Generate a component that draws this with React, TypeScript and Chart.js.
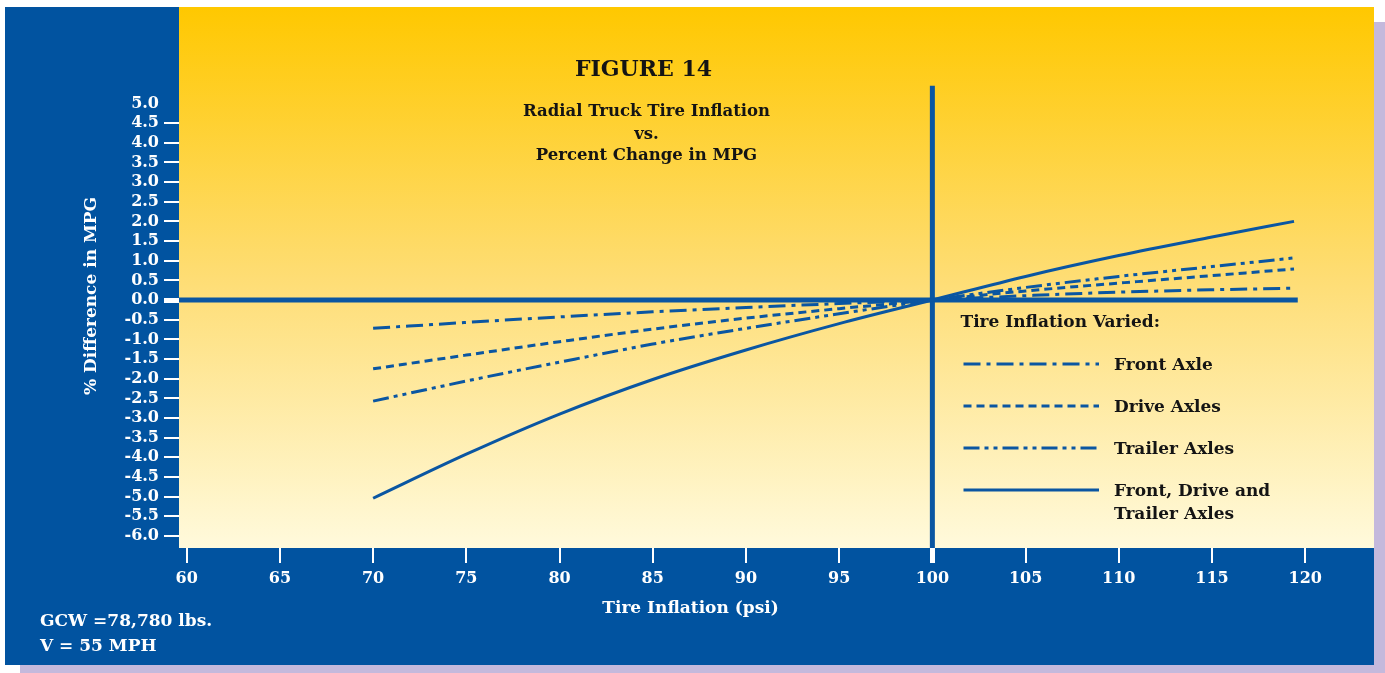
import { useEffect, useRef } from "react";
import { Chart, registerables } from "chart.js";

Chart.register(...registerables);

// ---- data ----
const inflationPsi = [70, 75, 80, 85, 90, 95, 100, 105, 110, 115, 119.4];
const frontAxle = [-0.72, -0.57, -0.43, -0.3, -0.19, -0.09, 0, 0.11, 0.2, 0.26, 0.3];
const driveAxles = [-1.75, -1.4, -1.06, -0.74, -0.46, -0.22, 0, 0.23, 0.43, 0.62, 0.79];
const trailerAxles = [-2.57, -2.06, -1.58, -1.12, -0.72, -0.35, 0, 0.32, 0.6, 0.85, 1.07];
const allAxles = [-5.04, -3.92, -2.9, -2.02, -1.27, -0.6, 0, 0.6, 1.13, 1.6, 2.0];
const seriesLabels = ["Front Axle", "Drive Axles", "Trailer Axles", "Front, Drive and\nTrailer Axles"];
const xTicks = [60, 65, 70, 75, 80, 85, 90, 95, 100, 105, 110, 115, 120];
const yTicks = [-6, -5.5, -5, -4.5, -4, -3.5, -3, -2.5, -2, -1.5, -1, -0.5, 0, 0.5, 1, 1.5, 2, 2.5, 3, 3.5, 4, 4.5, 5];
const figureTitle = "FIGURE 14";
const subtitleLines = ["Radial Truck Tire Inflation", "vs.", "Percent Change in MPG"];
const xTitle = "Tire Inflation (psi)";
const yTitle = "% Difference in MPG";
const legendTitle = "Tire Inflation Varied:";
const footnoteLines = ["GCW =78,780 lbs.", "V = 55 MPH"];
const referenceX = 100;
const zeroLineEnd = 119.6;
const verticalLineTop = 5.45;

// ---- style ----
const W = 1385;
const H = 673;
const BLUE = "#0153a0";
const LINE = "#0a56a2";
const INK = "#141414";
const FONT = "'DejaVu Serif', serif";

const seriesDashes = [[17, 6, 4, 6], [8, 5], [16, 5, 4, 5, 4, 5], []];

const backgroundPlugin = {
  id: "panelBackground",
  beforeDraw(chart: any) {
    const { ctx, chartArea: a } = chart;
    ctx.save();
    ctx.fillStyle = "#ffffff";
    ctx.fillRect(0, 0, W, H);
    ctx.fillStyle = "#c4b9dc";
    ctx.fillRect(20, 22, W - 20, H - 22);
    ctx.fillStyle = BLUE;
    ctx.fillRect(5, 7, a.right - 5, H - 8 - 7);
    const g = ctx.createLinearGradient(0, a.top, 0, a.bottom);
    g.addColorStop(0, "#ffc800");
    g.addColorStop(0.5, "#fedd74");
    g.addColorStop(1, "#fffadc");
    ctx.fillStyle = g;
    ctx.fillRect(a.left, a.top, a.right - a.left, a.bottom - a.top);
    ctx.restore();
  },
};

const refLinesPlugin = {
  id: "refLines",
  beforeDatasetsDraw(chart: any) {
    const { ctx, chartArea: a, scales } = chart;
    const x = scales.x;
    const y = scales.y;
    ctx.save();
    ctx.strokeStyle = LINE;
    ctx.lineWidth = 5;
    ctx.beginPath();
    ctx.moveTo(a.left, y.getPixelForValue(0));
    ctx.lineTo(x.getPixelForValue(zeroLineEnd), y.getPixelForValue(0));
    ctx.stroke();
    ctx.beginPath();
    ctx.moveTo(x.getPixelForValue(referenceX), y.getPixelForValue(verticalLineTop));
    ctx.lineTo(x.getPixelForValue(referenceX), a.bottom);
    ctx.stroke();
    ctx.restore();
  },
};

const textPlugin = {
  id: "texts",
  afterDraw(chart: any) {
    const { ctx } = chart;
    ctx.save();
    ctx.fillStyle = INK;
    ctx.textAlign = "center";
    ctx.textBaseline = "alphabetic";
    ctx.font = `bold 22px ${FONT}`;
    ctx.fillText(figureTitle, 643.5, 76);
    ctx.font = `bold 16.5px ${FONT}`;
    const subY = [116, 138.5, 160];
    subtitleLines.forEach((t, i) => ctx.fillText(t, 646.5, subY[i]));

    ctx.font = `bold 17px ${FONT}`;
    ctx.textAlign = "left";
    ctx.fillText(legendTitle, 960.5, 327);
    const lineY = [364, 406, 448, 490];
    chart.data.datasets.forEach((ds: any, i: number) => {
      ctx.save();
      ctx.strokeStyle = ds.borderColor;
      ctx.lineWidth = ds.borderWidth;
      ctx.setLineDash(ds.borderDash || []);
      ctx.beginPath();
      ctx.moveTo(963.5, lineY[i]);
      ctx.lineTo(1099, lineY[i]);
      ctx.stroke();
      ctx.restore();
      const parts = String(ds.label).split("\n");
      parts.forEach((p, j) => ctx.fillText(p, 1114, lineY[i] + 5.5 + j * 23.5));
    });

    ctx.fillStyle = "#ffffff";
    ctx.textAlign = "center";
    ctx.fillText(xTitle, 690.5, 613);
    ctx.save();
    ctx.translate(96, 296);
    ctx.rotate(-Math.PI / 2);
    ctx.font = `bold 17px ${FONT}`;
    ctx.fillText(yTitle, 0, 0);
    ctx.restore();
    ctx.textAlign = "left";
    ctx.fillText(footnoteLines[0], 40, 626);
    ctx.fillText(footnoteLines[1], 40, 651);
    ctx.restore();
  },
};

export default function App() {
  const ref = useRef<HTMLCanvasElement | null>(null);

  useEffect(() => {
    if (!ref.current) return;
    const series = [frontAxle, driveAxles, trailerAxles, allAxles];
    const chart = new Chart(ref.current, {
      type: "line",
      data: {
        datasets: series.map((vals, i) => ({
          label: seriesLabels[i],
          data: inflationPsi.map((x, k) => ({ x, y: vals[k] })),
          borderColor: LINE,
          borderWidth: 3,
          borderDash: seriesDashes[i],
          pointRadius: 0,
          fill: false,
          cubicInterpolationMode: "monotone" as const,
        })),
      },
      options: {
        responsive: false,
        animation: false,
        events: [],
        layout: { padding: { top: 7, right: 11, left: 0, bottom: 0 } },
        plugins: {
          legend: { display: false },
          tooltip: { enabled: false },
          title: { display: false },
        },
        scales: {
          x: {
            type: "linear",
            position: "bottom",
            min: 59.587,
            max: 123.69,
            afterBuildTicks: (scale: any) => {
              scale.ticks = xTicks.map((value) => ({ value }));
            },
            afterFit: (scale: any) => {
              scale.height = 125;
              scale.paddingLeft = 0;
              scale.paddingRight = 0;
            },
            border: { display: false },
            grid: {
              drawOnChartArea: false,
              drawTicks: true,
              tickLength: 15,
              color: "#ffffff",
              lineWidth: (c: any) => (c.tick && c.tick.value === referenceX ? 5 : 2),
            },
            ticks: {
              color: "#ffffff",
              font: { family: FONT, size: 16, weight: "bold" },
              padding: 6,
              maxRotation: 0,
              autoSkip: false,
              callback: (v: any) => String(v),
            },
          },
          y: {
            type: "linear",
            min: -6.305,
            max: 7.45,
            afterBuildTicks: (scale: any) => {
              scale.ticks = yTicks.map((value) => ({ value }));
            },
            afterFit: (scale: any) => {
              scale.width = 179;
              scale.paddingTop = 0;
              scale.paddingBottom = 0;
            },
            border: { display: false },
            grid: {
              drawOnChartArea: false,
              drawTicks: true,
              tickLength: 15,
              color: (c: any) => (c.tick && c.tick.value === 5 ? "rgba(0,0,0,0)" : "#ffffff"),
              lineWidth: (c: any) => (c.tick && c.tick.value === 0 ? 5 : 2),
            },
            ticks: {
              color: "#ffffff",
              font: { family: FONT, size: 16, weight: "bold" },
              padding: 5,
              autoSkip: false,
              callback: (v: any) => Number(v).toFixed(1),
            },
          },
        },
      },
      plugins: [backgroundPlugin, refLinesPlugin, textPlugin],
    });
    return () => chart.destroy();
  }, []);

  return (
    <div style={{ position: "absolute", left: 0, top: 0, width: W, height: H }}>
      <canvas ref={ref} width={W} height={H} style={{ display: "block", width: W, height: H }} />
    </div>
  );
}
